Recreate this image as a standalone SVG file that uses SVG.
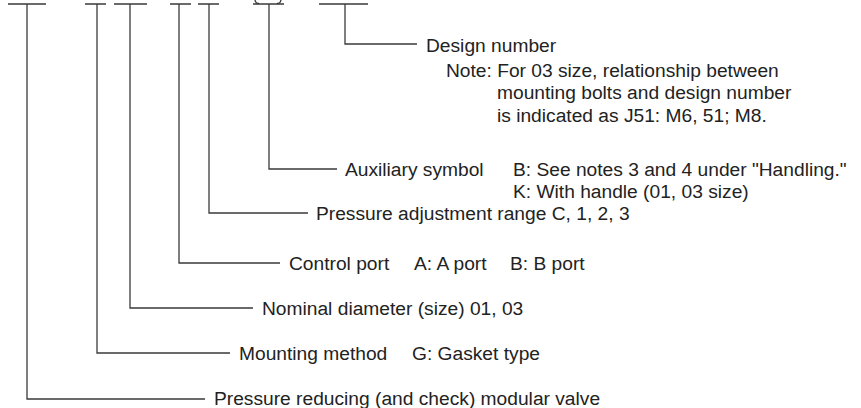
<svg xmlns="http://www.w3.org/2000/svg" width="861" height="408" viewBox="0 0 861 408">
<style>
.c{fill:none;stroke:#3a3a3a;stroke-width:1.3}
text{font-family:"Liberation Sans",Arial,sans-serif;font-size:19.2px;fill:#222}
</style>
<rect width="861" height="408" fill="#fff"/>
<g id="connectors">
<path class="c" d="M8,4H46M27,4V399H205"/>
<path class="c" d="M85,4H106M97,4V353H230"/>
<path class="c" d="M114,4H147M130,4V308H253"/>
<path class="c" d="M170,4H191M179,4V263H280"/>
<path class="c" d="M198,4H219M209,4V213H308"/>
<path class="c" d="M253,4H284M269,4V169H337"/>
<path class="c" stroke-width="2.2" d="M255,-1Q255,3.5 259,3.5M281,-1Q281,3.5 277,3.5"/>
<path class="c" d="M319,4H368M345,4V44H417"/>
</g>
<g id="design-number">
<text x="426" y="51.5">Design number</text>
<text x="446" y="76.5">Note: For 03 size, relationship between</text>
<text x="497" y="99">mounting bolts and design number</text>
<text x="497" y="121.5">is indicated as J51: M6, 51; M8.</text>
</g>
<g id="auxiliary-symbol">
<text x="345" y="176">Auxiliary symbol</text>
<text x="513" y="176">B: See notes 3 and 4 under "Handling."</text>
<text x="513" y="198">K: With handle (01, 03 size)</text>
</g>
<g id="pressure-adjustment">
<text x="316" y="220">Pressure adjustment range C, 1, 2, 3</text>
</g>
<g id="control-port">
<text x="289" y="269.5">Control port</text>
<text x="414" y="269.5">A: A port</text>
<text x="510" y="269.5">B: B port</text>
</g>
<g id="nominal-diameter">
<text x="262" y="314.5">Nominal diameter (size) 01, 03</text>
</g>
<g id="mounting-method">
<text x="239" y="359.5">Mounting method</text>
<text x="412" y="359.5">G: Gasket type</text>
</g>
<g id="valve-type">
<text x="214" y="404.5">Pressure reducing (and check) modular valve</text>
</g>
</svg>
